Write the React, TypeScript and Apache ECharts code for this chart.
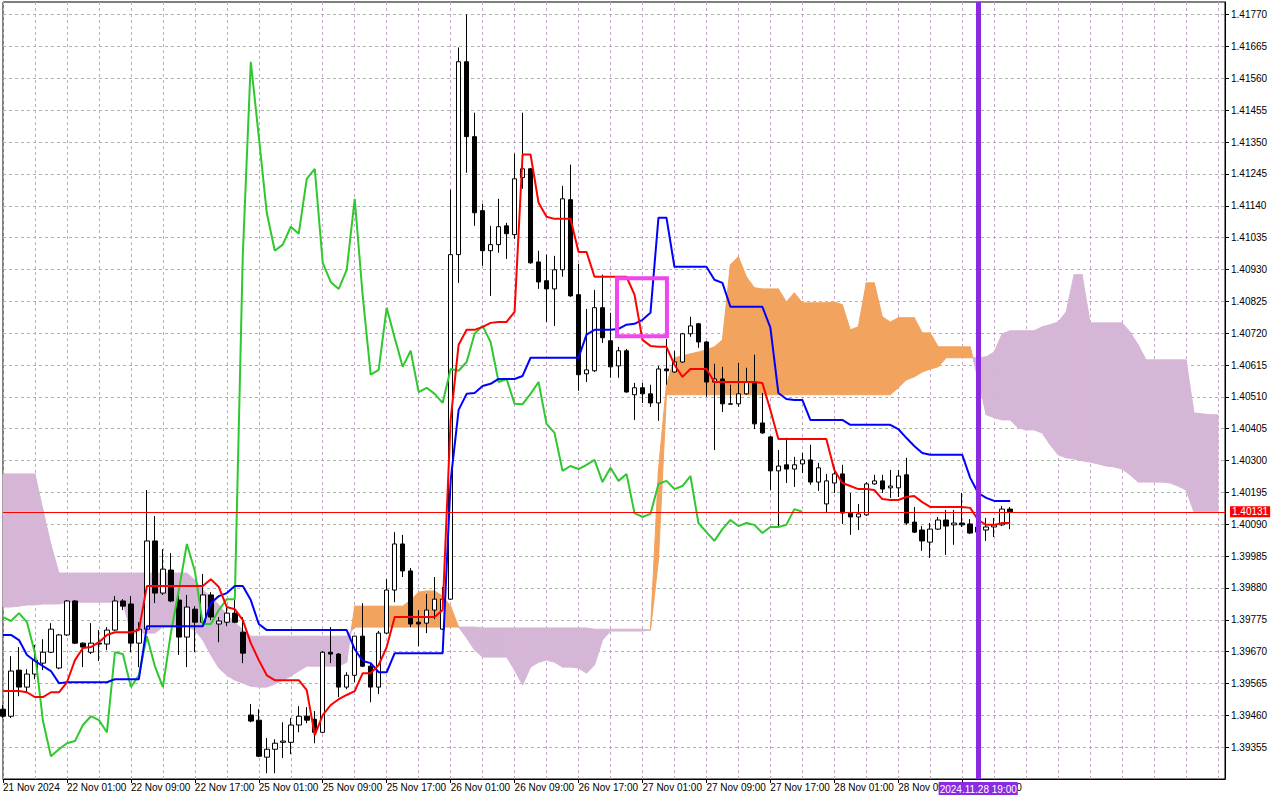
import React, { useEffect, useRef } from 'react';
import * as echarts from 'echarts';

// ---- tick labels ----
const timeTickLabels = [
  '21 Nov 2024', '22 Nov 01:00', '22 Nov 09:00', '22 Nov 17:00', '25 Nov 01:00', '25 Nov 09:00',
  '25 Nov 17:00', '26 Nov 01:00', '26 Nov 09:00', '26 Nov 17:00', '27 Nov 01:00', '27 Nov 09:00',
  '27 Nov 17:00', '28 Nov 01:00', '28 Nov 09:00', '28 Nov 17:00',
];
const priceTickLabels = [
  '1.41770', '1.41665', '1.41560', '1.41455', '1.41350', '1.41245', '1.41140', '1.41035',
  '1.40930', '1.40825', '1.40720', '1.40615', '1.40510', '1.40405', '1.40300', '1.40195',
  '1.40090', '1.39985', '1.39880', '1.39775', '1.39670', '1.39565', '1.39460', '1.39355',
];

// ---- H1 candles (bar index 0 = 21 Nov 17:00) ----
const opens = [
  1.39480, 1.39457, 1.39609, 1.39553, 1.39596, 1.39632, 1.39668, 1.39616, 1.39725, 1.39837,
  1.39698, 1.39668, 1.39698, 1.39695, 1.39741, 1.39837, 1.39827, 1.39698, 1.39744, 1.40035,
  1.39863, 1.39939, 1.39840, 1.39718, 1.39810, 1.39767, 1.39857, 1.39761, 1.39767, 1.39797,
  1.39734, 1.39461, 1.39444, 1.39322, 1.39348, 1.39371, 1.39371, 1.39428, 1.39457, 1.39447,
  1.39404, 1.39668, 1.39662, 1.39553, 1.39592, 1.39721, 1.39622, 1.39553, 1.39731, 1.39873,
  1.40025, 1.39936, 1.39767, 1.39764, 1.39807, 1.39744, 1.39843, 1.40979, 1.41615, 1.41368,
  1.41124, 1.40992, 1.41012, 1.41074, 1.41045, 1.41233, 1.41262, 1.40955, 1.40893, 1.40866,
  1.40929, 1.41160, 1.40847, 1.40586, 1.40596, 1.40804, 1.40695, 1.40612, 1.40662, 1.40517,
  1.40540, 1.40520, 1.40490, 1.40602, 1.40592, 1.40625, 1.40718, 1.40751, 1.40691, 1.40559,
  1.40569, 1.40487, 1.40487, 1.40520, 1.40559, 1.40424, 1.40378, 1.40266, 1.40286, 1.40272,
  1.40289, 1.40302, 1.40229, 1.40157, 1.40226, 1.40256, 1.40127, 1.40114, 1.40121, 1.40223,
  1.40233, 1.40210, 1.40210, 1.40253, 1.40097, 1.40071, 1.40031, 1.40074, 1.40104, 1.40088,
  1.40094, 1.40091, 1.40064, 1.40071, 1.40081, 1.40088, 1.40140,
];
const highs = [
  1.39494, 1.39655, 1.39685, 1.39612, 1.39692, 1.39711, 1.39764, 1.39728, 1.39840, 1.39840,
  1.39700, 1.39764, 1.39741, 1.39751, 1.39853, 1.39843, 1.39853, 1.39767, 1.40203, 1.40117,
  1.40008, 1.39995, 1.39857, 1.39857, 1.39820, 1.39926, 1.39866, 1.39784, 1.39820, 1.39840,
  1.39784, 1.39497, 1.39480, 1.39385, 1.39381, 1.39437, 1.39451, 1.39490, 1.39487, 1.39474,
  1.39672, 1.39751, 1.39665, 1.39602, 1.39721, 1.39830, 1.39632, 1.39738, 1.39909, 1.40064,
  1.40055, 1.39946, 1.39807, 1.39860, 1.39916, 1.39883, 1.41193, 1.41662, 1.41771, 1.41447,
  1.41147, 1.41074, 1.41163, 1.41084, 1.41312, 1.41447, 1.41265, 1.40992, 1.40979, 1.40975,
  1.41206, 1.41276, 1.40949, 1.40800, 1.40863, 1.40913, 1.40787, 1.40675, 1.40668, 1.40556,
  1.40556, 1.40550, 1.40612, 1.40701, 1.40662, 1.40721, 1.40774, 1.40754, 1.40694, 1.40619,
  1.40609, 1.40550, 1.40622, 1.40606, 1.40649, 1.40523, 1.40381, 1.40335, 1.40375, 1.40312,
  1.40325, 1.40352, 1.40292, 1.40256, 1.40279, 1.40286, 1.40193, 1.40157, 1.40229, 1.40253,
  1.40253, 1.40269, 1.40269, 1.40309, 1.40147, 1.40084, 1.40094, 1.40114, 1.40137, 1.40137,
  1.40193, 1.40107, 1.40104, 1.40111, 1.40111, 1.40150, 1.40147,
];
const lows = [
  1.39451, 1.39451, 1.39523, 1.39533, 1.39579, 1.39609, 1.39665, 1.39612, 1.39722, 1.39695,
  1.39619, 1.39662, 1.39639, 1.39675, 1.39738, 1.39807, 1.39668, 1.39619, 1.39741, 1.39830,
  1.39857, 1.39833, 1.39659, 1.39619, 1.39668, 1.39761, 1.39774, 1.39701, 1.39754, 1.39764,
  1.39632, 1.39437, 1.39322, 1.39269, 1.39269, 1.39319, 1.39332, 1.39404, 1.39434, 1.39368,
  1.39401, 1.39632, 1.39520, 1.39546, 1.39569, 1.39619, 1.39503, 1.39530, 1.39728, 1.39833,
  1.39916, 1.39751, 1.39688, 1.39731, 1.39777, 1.39741, 1.39840, 1.40886, 1.41249, 1.41074,
  1.40942, 1.40843, 1.40985, 1.40965, 1.41031, 1.41196, 1.40949, 1.40866, 1.40757, 1.40744,
  1.40906, 1.40840, 1.40530, 1.40559, 1.40592, 1.40688, 1.40573, 1.40573, 1.40524, 1.40434,
  1.40490, 1.40477, 1.40431, 1.40550, 1.40589, 1.40622, 1.40708, 1.40672, 1.40510, 1.40335,
  1.40460, 1.40484, 1.40477, 1.40517, 1.40404, 1.40388, 1.40203, 1.40078, 1.40226, 1.40213,
  1.40259, 1.40220, 1.40200, 1.40127, 1.40193, 1.40091, 1.40055, 1.40071, 1.40117, 1.40220,
  1.40193, 1.40177, 1.40180, 1.40088, 1.40061, 1.40002, 1.39979, 1.40071, 1.39989, 1.40022,
  1.40081, 1.40058, 1.40051, 1.40035, 1.40048, 1.40084, 1.40074,
];
const closes = [
  1.39457, 1.39606, 1.39553, 1.39596, 1.39642, 1.39668, 1.39744, 1.39725, 1.39837, 1.39698,
  1.39685, 1.39698, 1.39695, 1.39741, 1.39837, 1.39820, 1.39698, 1.39744, 1.40035, 1.39863,
  1.39942, 1.39837, 1.39718, 1.39817, 1.39767, 1.39857, 1.39784, 1.39771, 1.39797, 1.39767,
  1.39665, 1.39441, 1.39325, 1.39348, 1.39368, 1.39375, 1.39428, 1.39457, 1.39444, 1.39404,
  1.39668, 1.39662, 1.39553, 1.39592, 1.39721, 1.39622, 1.39553, 1.39731, 1.39873, 1.40025,
  1.39936, 1.39761, 1.39761, 1.39807, 1.39843, 1.39843, 1.40979, 1.41615, 1.41368, 1.41117,
  1.40992, 1.41012, 1.41071, 1.41048, 1.41229, 1.41262, 1.40952, 1.40889, 1.40866, 1.40929,
  1.41163, 1.40843, 1.40583, 1.40599, 1.40804, 1.40705, 1.40609, 1.40662, 1.40526, 1.40540,
  1.40520, 1.40490, 1.40602, 1.40596, 1.40625, 1.40718, 1.40744, 1.40691, 1.40559, 1.40569,
  1.40487, 1.40486, 1.40520, 1.40559, 1.40421, 1.40391, 1.40266, 1.40282, 1.40272, 1.40286,
  1.40302, 1.40229, 1.40276, 1.40233, 1.40256, 1.40127, 1.40114, 1.40124, 1.40223, 1.40233,
  1.40206, 1.40216, 1.40249, 1.40094, 1.40064, 1.40035, 1.40074, 1.40104, 1.40084, 1.40094,
  1.40088, 1.40061, 1.40081, 1.40081, 1.40088, 1.40140, 1.40131,
];

// ---- Ichimoku lines ----
const tenkanSen = [
  1.39540, 1.39540, 1.39540, 1.39536, 1.39520, 1.39520, 1.39536, 1.39536, 1.39569, 1.39642,
  1.39682, 1.39685, 1.39701, 1.39725, 1.39734, 1.39734, 1.39734, 1.39741, 1.39886, 1.39886,
  1.39886, 1.39886, 1.39886, 1.39886, 1.39886, 1.39886, 1.39909, 1.39883, 1.39817, 1.39810,
  1.39774, 1.39698, 1.39642, 1.39592, 1.39576, 1.39576, 1.39576, 1.39576, 1.39543, 1.39395,
  1.39461, 1.39494, 1.39513, 1.39527, 1.39540, 1.39599, 1.39599, 1.39626, 1.39685, 1.39784,
  1.39784, 1.39784, 1.39784, 1.39784, 1.39784, 1.39807, 1.40434, 1.40682, 1.40731, 1.40731,
  1.40741, 1.40754, 1.40757, 1.40757, 1.40790, 1.41309, 1.41309, 1.41150, 1.41104, 1.41097,
  1.41097, 1.41097, 1.40988, 1.40988, 1.40906, 1.40906, 1.40906, 1.40906, 1.40906, 1.40847,
  1.40698, 1.40678, 1.40675, 1.40675, 1.40616, 1.40576, 1.40602, 1.40602, 1.40602, 1.40559,
  1.40559, 1.40559, 1.40559, 1.40559, 1.40559, 1.40556, 1.40467, 1.40371, 1.40371, 1.40371,
  1.40371, 1.40371, 1.40371, 1.40371, 1.40269, 1.40226, 1.40216, 1.40206, 1.40206, 1.40203,
  1.40173, 1.40170, 1.40170, 1.40180, 1.40183, 1.40163, 1.40147, 1.40147, 1.40147, 1.40147,
  1.40147, 1.40144, 1.40104, 1.40088, 1.40088, 1.40094, 1.40094,
];
const kijunSen = [
  1.39725, 1.39725, 1.39708, 1.39659, 1.39639, 1.39622, 1.39606, 1.39566, 1.39569, 1.39569,
  1.39569, 1.39569, 1.39569, 1.39569, 1.39579, 1.39579, 1.39579, 1.39579, 1.39754, 1.39754,
  1.39754, 1.39754, 1.39754, 1.39754, 1.39754, 1.39754, 1.39830, 1.39853, 1.39863, 1.39886,
  1.39886, 1.39840, 1.39761, 1.39741, 1.39741, 1.39741, 1.39741, 1.39741, 1.39741, 1.39741,
  1.39741, 1.39741, 1.39741, 1.39741, 1.39678, 1.39639, 1.39632, 1.39602, 1.39602, 1.39665,
  1.39665, 1.39665, 1.39665, 1.39665, 1.39665, 1.39665, 1.40233, 1.40467, 1.40520, 1.40523,
  1.40546, 1.40553, 1.40569, 1.40569, 1.40569, 1.40579, 1.40639, 1.40639, 1.40639, 1.40639,
  1.40639, 1.40639, 1.40639, 1.40715, 1.40731, 1.40731, 1.40731, 1.40734, 1.40748, 1.40751,
  1.40764, 1.40787, 1.41101, 1.41101, 1.40939, 1.40939, 1.40939, 1.40939, 1.40939, 1.40896,
  1.40886, 1.40807, 1.40807, 1.40807, 1.40807, 1.40807, 1.40738, 1.40523, 1.40503, 1.40500,
  1.40500, 1.40434, 1.40434, 1.40434, 1.40434, 1.40434, 1.40418, 1.40418, 1.40418, 1.40418,
  1.40418, 1.40418, 1.40404, 1.40375, 1.40348, 1.40325, 1.40319, 1.40319, 1.40319, 1.40319,
  1.40319, 1.40243, 1.40193, 1.40177, 1.40167, 1.40167, 1.40167,
];
const senkouA = [
  1.39817, 1.39817, 1.39820, 1.39824, 1.39824, 1.39827, 1.39827, 1.39827, 1.39833, 1.39833,
  1.39833, 1.39833, 1.39833, 1.39833, 1.39833, 1.39833, 1.39731, 1.39731, 1.39731, 1.39731,
  1.39751, 1.39751, 1.39751, 1.39751, 1.39741, 1.39708, 1.39659, 1.39616, 1.39592, 1.39576,
  1.39566, 1.39556, 1.39553, 1.39553, 1.39563, 1.39576, 1.39589, 1.39606, 1.39622, 1.39622,
  1.39622, 1.39622, 1.39622, 1.39635, 1.39820, 1.39820, 1.39820, 1.39820, 1.39820, 1.39820,
  1.39820, 1.39840, 1.39866, 1.39870, 1.39870, 1.39853, 1.39820, 1.39751, 1.39715, 1.39675,
  1.39652, 1.39652, 1.39652, 1.39652, 1.39609, 1.39560, 1.39619, 1.39635, 1.39642, 1.39635,
  1.39619, 1.39619, 1.39616, 1.39599, 1.39626, 1.39708, 1.39738, 1.39738, 1.39738, 1.39738,
  1.39738, 1.39741, 1.40269, 1.40550, 1.40639, 1.40645, 1.40652, 1.40658, 1.40665, 1.40675,
  1.40698, 1.40946, 1.40972, 1.40906, 1.40870, 1.40866, 1.40866, 1.40866, 1.40823, 1.40853,
  1.40820, 1.40820, 1.40820, 1.40820, 1.40823, 1.40814, 1.40731, 1.40741, 1.40886, 1.40886,
  1.40774, 1.40757, 1.40771, 1.40771, 1.40771, 1.40721, 1.40721, 1.40675, 1.40675, 1.40675,
  1.40675, 1.40675, 1.40566, 1.40451, 1.40441, 1.40434, 1.40434, 1.40408, 1.40401, 1.40401,
  1.40391, 1.40352, 1.40319, 1.40309, 1.40305, 1.40299, 1.40295, 1.40289, 1.40282, 1.40279,
  1.40272, 1.40253, 1.40229, 1.40229, 1.40229, 1.40229, 1.40226, 1.40216, 1.40203, 1.40130,
  1.40130, 1.40130, 1.40130,
];
const senkouB = [
  1.40256, 1.40256, 1.40256, 1.40256, 1.40256, 1.40137, 1.40022, 1.39929, 1.39929, 1.39929,
  1.39929, 1.39929, 1.39929, 1.39929, 1.39929, 1.39929, 1.39929, 1.39929, 1.39929, 1.39929,
  1.39929, 1.39929, 1.39929, 1.39929, 1.39906, 1.39873, 1.39850, 1.39824, 1.39791, 1.39767,
  1.39741, 1.39721, 1.39721, 1.39721, 1.39721, 1.39721, 1.39721, 1.39721, 1.39721, 1.39721,
  1.39721, 1.39721, 1.39721, 1.39721, 1.39751, 1.39751, 1.39751, 1.39751, 1.39751, 1.39751,
  1.39751, 1.39751, 1.39751, 1.39751, 1.39751, 1.39751, 1.39751, 1.39751, 1.39751, 1.39751,
  1.39748, 1.39748, 1.39748, 1.39748, 1.39748, 1.39748, 1.39748, 1.39748, 1.39748, 1.39748,
  1.39748, 1.39748, 1.39748, 1.39748, 1.39744, 1.39744, 1.39744, 1.39744, 1.39744, 1.39744,
  1.39744, 1.39741, 1.39972, 1.40517, 1.40517, 1.40517, 1.40517, 1.40517, 1.40517, 1.40517,
  1.40517, 1.40517, 1.40517, 1.40517, 1.40517, 1.40517, 1.40517, 1.40517, 1.40517, 1.40517,
  1.40517, 1.40517, 1.40517, 1.40517, 1.40517, 1.40517, 1.40517, 1.40517, 1.40517, 1.40517,
  1.40517, 1.40517, 1.40540, 1.40566, 1.40576, 1.40592, 1.40602, 1.40609, 1.40639, 1.40639,
  1.40639, 1.40639, 1.40639, 1.40642, 1.40658, 1.40718, 1.40728, 1.40728, 1.40728, 1.40728,
  1.40741, 1.40748, 1.40757, 1.40790, 1.40913, 1.40913, 1.40754, 1.40754, 1.40754, 1.40754,
  1.40754, 1.40724, 1.40682, 1.40632, 1.40632, 1.40632, 1.40632, 1.40632, 1.40632, 1.40457,
  1.40454, 1.40451, 1.40451,
];
const CHIKOU_SHIFT = 26;

// ---- annotations ----
const lastPrice = 1.40131;
const markerBar = 122;
const markerLabel = '2024.11.28 19:00';
const boxFromBar = 76.81;
const boxToBar = 83.06;
const boxTopPrice = 1.40901;
const boxBottomPrice = 1.40710;

// ---- axis ranges ----
const X_MAX = 152.875;
const Y_MIN = 1.3925;
const Y_MAX = 1.41812;
const Y_STEP = 0.00105;

const FONT = '"Liberation Sans", Arial, sans-serif';
const CLOUD_UP = '#f2a35e';
const CLOUD_DOWN = '#d6b6d6';

function cloudRenderItem(params: any, api: any) {
  const k = api.value(0);
  const a0 = api.value(1);
  const b0 = api.value(2);
  const a1 = api.value(3);
  const b1 = api.value(4);
  const pA0 = api.coord([k, a0]);
  const pB0 = api.coord([k, b0]);
  const pA1 = api.coord([k + 1, a1]);
  const pB1 = api.coord([k + 1, b1]);
  const d0 = a0 - b0;
  const d1 = a1 - b1;
  const col = (d: number) => (d >= 0 ? CLOUD_UP : CLOUD_DOWN);
  const poly = (pts: number[][], c: string) => ({
    type: 'polygon',
    shape: { points: pts },
    style: { fill: c, stroke: c, lineWidth: 1 },
    silent: true,
  });
  const children: any[] = [];
  if (d0 * d1 >= 0) {
    const c = col(d0 !== 0 ? d0 : d1);
    children.push(poly([pA0, pA1, pB1, pB0], c));
  } else {
    const t = d0 / (d0 - d1);
    const X = [pA0[0] + t * (pA1[0] - pA0[0]), pA0[1] + t * (pA1[1] - pA0[1])];
    children.push(poly([pA0, X, pB0], col(d0)));
    children.push(poly([X, pA1, pB1], col(d1)));
  }
  return { type: 'group', children };
}

function buildOption() {
  const candleData = opens.map((o, i) => [i, o, closes[i], lows[i], highs[i]]);
  const tenkanData = tenkanSen.map((v, i) => [i, v]);
  const kijunData = kijunSen.map((v, i) => [i, v]);
  const chikouData = closes.slice(CHIKOU_SHIFT).map((v, i) => [i, v]);
  const cloudData = senkouA.slice(0, -1).map((a, i) => [i, a, senkouB[i], senkouA[i + 1], senkouB[i + 1]]);

  const timeTickValues = timeTickLabels.map((_, i) => i * 8);
  const priceTickValues = priceTickLabels.map((s) => Number(s));

  return {
    animation: false,
    backgroundColor: '#ffffff',
    textStyle: { fontFamily: FONT },
    grid: {
      left: 2, top: 2, right: 55, bottom: 21,
      show: true, borderColor: '#000000', borderWidth: 1, backgroundColor: '#ffffff',
    },
    xAxis: [
      {
        type: 'value', position: 'top', min: 0, max: X_MAX, interval: 4,
        axisLine: { show: false }, axisTick: { show: false }, axisLabel: { show: false },
        splitLine: { show: true, lineStyle: { color: '#c2a8c2', width: 1, type: [3, 3] } },
      },
      {
        type: 'value', position: 'bottom', min: 0, max: X_MAX, interval: 8,
        axisLine: { show: true, onZero: false, lineStyle: { color: '#000000', width: 1 } },
        axisTick: { show: true, length: 4, customValues: timeTickValues, lineStyle: { color: '#000000' } },
        axisLabel: {
          show: true, customValues: timeTickValues, align: 'left', margin: 3,
          fontSize: 10, color: '#000000', fontFamily: FONT,
          showMinLabel: true, showMaxLabel: true,
          formatter: (v: number) => {
            const i = Math.round(v / 8);
            if (Math.abs(v - i * 8) > 1e-6) return '';
            return timeTickLabels[i] ?? '';
          },
        },
        splitLine: { show: false },
      },
    ],
    yAxis: {
      type: 'value', position: 'right', min: Y_MIN, max: Y_MAX, interval: Y_STEP,
      axisLine: { show: true, onZero: false, lineStyle: { color: '#000000', width: 1 } },
      axisTick: { show: true, length: 4, customValues: priceTickValues, lineStyle: { color: '#000000' } },
      axisLabel: {
        show: true, customValues: priceTickValues, margin: 6, fontSize: 10, color: '#000000', fontFamily: FONT,
        formatter: (v: number) => (v < 1.393 || v > 1.4178 ? '' : v.toFixed(5)),
      },
      splitLine: { show: true, lineStyle: { color: '#a8b8a8', width: 1, type: [3, 3] } },
    },
    series: [
      {
        name: 'Kumo', type: 'custom', xAxisIndex: 1, data: cloudData,
        encode: { x: 0, y: [1, 2, 3, 4] }, renderItem: cloudRenderItem, silent: true, z: 1,
      },
      {
        name: 'price', type: 'candlestick', xAxisIndex: 1, data: candleData,
        encode: { x: 0, y: [1, 2, 3, 4] }, barWidth: 5, silent: true, z: 2,
        itemStyle: {
          color: '#ffffff', color0: '#000000',
          borderColor: '#000000', borderColor0: '#000000', borderWidth: 1,
        },
      },
      {
        name: 'Chikou Span', type: 'line', xAxisIndex: 1, data: chikouData, symbol: 'none',
        silent: true, lineStyle: { color: '#2fc82f', width: 2 }, z: 3,
      },
      {
        name: 'Kijun-sen', type: 'line', xAxisIndex: 1, data: kijunData, symbol: 'none',
        silent: true, lineStyle: { color: '#0000ff', width: 2 }, z: 3,
      },
      {
        name: 'Tenkan-sen', type: 'line', xAxisIndex: 1, data: tenkanData, symbol: 'none',
        silent: true, lineStyle: { color: '#ff0000', width: 2 }, z: 4,
        markLine: {
          silent: true, symbol: ['none', 'none'], animation: false, precision: 5, z: 6,
          data: [
            {
              yAxis: lastPrice,
              lineStyle: { color: '#ff0000', width: 1, type: 'solid' },
              label: {
                show: true, position: 'end', distance: 5, formatter: lastPrice.toFixed(5),
                backgroundColor: '#ff0000', color: '#ffffff', padding: [1, 2, 0, 2],
                fontSize: 10, fontFamily: FONT,
              },
            },
            {
              xAxis: markerBar,
              lineStyle: { color: '#8a2be2', width: 5, type: 'solid' },
              label: {
                show: true, position: 'start', distance: 3, formatter: markerLabel,
                backgroundColor: '#8a2be2', color: '#ffffff', padding: [2, 1, 1, 1],
                fontSize: 10, fontFamily: FONT,
              },
            },
          ],
        },
        markArea: {
          silent: true, z: 6,
          itemStyle: { color: 'rgba(0,0,0,0)', borderColor: '#f046f0', borderWidth: 4 },
          data: [[
            { xAxis: boxFromBar, yAxis: boxTopPrice },
            { xAxis: boxToBar, yAxis: boxBottomPrice },
          ]],
        },
      },
    ],
  };
}

export default function App() {
  const ref = useRef<HTMLDivElement>(null);
  useEffect(() => {
    document.body.style.margin = '0';
    const chart = echarts.init(ref.current as HTMLDivElement, null, { renderer: 'svg' });
    chart.setOption(buildOption() as any);
    return () => chart.dispose();
  }, []);
  return (
    <div
      ref={ref}
      style={{ position: 'absolute', left: 0, top: 0, width: 1280, height: 800, background: '#ffffff' }}
    />
  );
}
